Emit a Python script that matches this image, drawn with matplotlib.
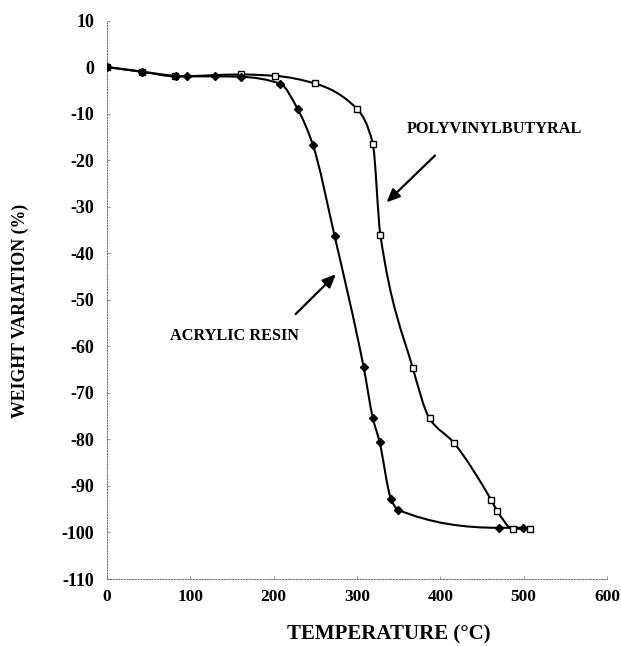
import matplotlib
matplotlib.use("Agg")
import matplotlib.pyplot as plt
from matplotlib.path import Path
from matplotlib.patches import PathPatch
import numpy as np

# Data
acrylic_T = [0, 42, 83, 96, 130, 161, 208, 229, 247, 273, 308, 319, 327, 341, 349, 470, 499]
acrylic_W = [0, -1.0, -1.9, -2.0, -2.0, -2.1, -3.6, -9.1, -16.7, -36.2, -64.5, -75.4, -80.5, -92.9, -95.1, -99.0, -99.0]

pvb_T = [0, 42, 82, 161, 202, 249, 300, 319, 328, 367, 387, 416, 461, 468, 487, 507]
pvb_W = [0, -1.0, -2.0, -1.6, -1.9, -3.5, -9.0, -16.5, -36.0, -64.7, -75.5, -80.7, -93.0, -95.3, -99.2, -99.2]

x_ticks = [0, 100, 200, 300, 400, 500, 600]
y_ticks = [10, 0, -10, -20, -30, -40, -50, -60, -70, -80, -90, -100, -110]

FONT = "Liberation Serif"

fig = plt.figure(figsize=(6.21, 6.46), dpi=100)
ax = fig.add_axes([107 / 621, 1 - 579 / 646, (607 - 107) / 621, (579 - 20.5) / 646])


def smooth_path(xs, ys):
    """Monotone (Fritsch-Carlson) cubic drawn as Bezier curves through the data points."""
    x = np.asarray(xs, float)
    y = np.asarray(ys, float)
    n = len(x)
    h = np.diff(x)
    d = np.diff(y) / h
    m = np.zeros(n)
    m[0] = d[0]
    m[-1] = d[-1]
    for i in range(1, n - 1):
        if d[i - 1] * d[i] <= 0:
            m[i] = 0.0
        else:
            w1 = 2 * h[i] + h[i - 1]
            w2 = h[i] + 2 * h[i - 1]
            m[i] = (w1 + w2) / (w1 / d[i - 1] + w2 / d[i])
    verts = [(x[0], y[0])]
    codes = [Path.MOVETO]
    for i in range(n - 1):
        c1 = (x[i] + h[i] / 3, y[i] + m[i] * h[i] / 3)
        c2 = (x[i + 1] - h[i] / 3, y[i + 1] - m[i + 1] * h[i] / 3)
        verts += [c1, c2, (x[i + 1], y[i + 1])]
        codes += [Path.CURVE4] * 3
    return Path(verts, codes)


for T, W in [(pvb_T, pvb_W), (acrylic_T, acrylic_W)]:
    ax.add_patch(PathPatch(smooth_path(T, W), facecolor="none", edgecolor="black", lw=1.5, zorder=2))

ax.plot(pvb_T, pvb_W, linestyle="none", marker="s", markersize=5, markerfacecolor="white",
        markeredgecolor="black", markeredgewidth=1.0, zorder=3)
ax.plot(acrylic_T, acrylic_W, linestyle="none", marker="D", markersize=4.5, markerfacecolor="black",
        markeredgecolor="black", zorder=4)

ax.set_xlim(0, 600)
ax.set_ylim(-110, 10)
ax.set_xticks(x_ticks)
ax.set_yticks(y_ticks)
ax.set_xticklabels([str(v) for v in x_ticks], fontfamily=FONT, fontweight="bold", fontsize=12.5)
ax.set_yticklabels([str(v) for v in y_ticks], fontfamily=FONT, fontweight="bold", fontsize=13)

for s in ["top", "right"]:
    ax.spines[s].set_visible(False)
for s in ["left", "bottom"]:
    ax.spines[s].set_linestyle((0, (1, 1.5)))
    ax.spines[s].set_color("#777777")
    ax.spines[s].set_linewidth(0.8)
ax.tick_params(axis="both", direction="in", length=2, width=0.6, color="#888888")
ax.tick_params(axis="y", pad=9)
ax.tick_params(axis="x", pad=7)

fig.text(389 / 621, 1 - 634 / 646, "TEMPERATURE (°C)", ha="center", va="center",
         fontfamily=FONT, fontweight="bold", fontsize=15)
fig.text(20 / 621, 1 - 311 / 646, "WEIGHT VARIATION (%)", ha="center", va="center", rotation=90,
         fontfamily=FONT, fontweight="bold", fontsize=12.8)

ax.text(465, -13.3, "POLYVINYLBUTYRAL", ha="center", va="center",
        fontfamily=FONT, fontweight="bold", fontsize=11.7)
ax.text(153, -57.8, "ACRYLIC RESIN", ha="center", va="center",
        fontfamily=FONT, fontweight="bold", fontsize=11.7)

arrowprops = dict(arrowstyle="-|>,head_length=0.8,head_width=0.35", color="black", lw=1.6)
ax.annotate("", xy=(333, -29.5), xytext=(396, -18.6), arrowprops=arrowprops)
ax.annotate("", xy=(277, -44.1), xytext=(224, -53.5), arrowprops=arrowprops)

fig.savefig("out.png", dpi=100, facecolor="white")
